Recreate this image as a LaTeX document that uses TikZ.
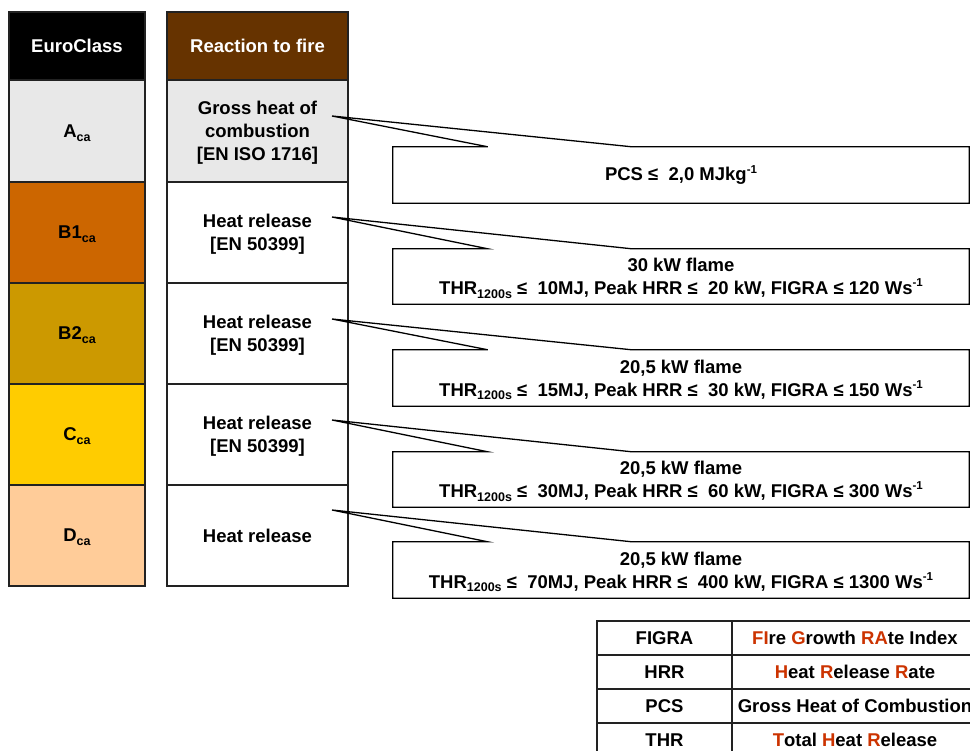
\documentclass[tikz,border=0pt]{standalone}
\usepackage{fontspec}
\setmainfont{Liberation Sans}
\usetikzlibrary{calc}
\definecolor{hdrbrown}{HTML}{663300}
\definecolor{lgray}{HTML}{E8E8E8}
\definecolor{cBone}{HTML}{CC6600}
\definecolor{cBtwo}{HTML}{CC9900}
\definecolor{cC}{HTML}{FFCC00}
\definecolor{cD}{HTML}{FFCC99}
\definecolor{lred}{HTML}{CC3300}
\definecolor{edge}{HTML}{222222}
\newcommand{\sbx}[1]{\smash{\raisebox{-0.4ex}{\fontsize{12.5}{12.5}\selectfont #1}}}
\newcommand{\spx}[1]{\raisebox{0.8ex}{\fontsize{11.5}{11.5}\selectfont #1}}
\newcommand{\rl}[1]{\textcolor{lred}{#1}}
\tikzset{
  cell/.style={draw=edge, line width=1.2pt, inner sep=0pt, align=center,
    font=\bfseries\fontsize{18.5}{23}\selectfont},
  colA/.style={cell, minimum width=136pt},
  colB/.style={cell, minimum width=181pt},
  rowbox/.style={minimum height=101pt},
  hdrbox/.style={minimum height=68pt, text=white},
  callbox/.style={fill=white, inner sep=0pt, minimum width=576pt, align=center,
    font=\bfseries\fontsize{18.5}{23}\selectfont},
  outl/.style={draw=black, line width=1.3pt, line join=miter},
  legcell/.style={cell, minimum height=34pt}
}
\begin{document}
\begin{tikzpicture}[x=1pt,y=-1pt]
\useasboundingbox (0,0) rectangle (970,751);
\clip (0,0) rectangle (970,751);
\fill[white] (0,0) rectangle (970,751);
% column 1
\node[colA, hdrbox, fill=black] (h1) at (77,46) {EuroClass};
\node[colA, rowbox, fill=lgray] (ca) at (77,131) {A\sbx{ca}};
\node[colA, rowbox, fill=cBone] (cb1) at (77,232.5) {B1\sbx{ca}};
\node[colA, rowbox, fill=cBtwo] (cb2) at (77,333.5) {B2\sbx{ca}};
\node[colA, rowbox, fill=cC] (cc) at (77,434.5) {C\sbx{ca}};
\node[colA, rowbox, fill=cD] (cd) at (77,535.5) {D\sbx{ca}};
% column 2
\node[colB, hdrbox, fill=hdrbrown] (h2) at (257.5,46) {Reaction to fire};
\node[colB, rowbox, fill=lgray] (ra) at (257.5,131) {Gross heat of\\combustion\\\smash{[EN ISO 1716]}};
\node[colB, rowbox, fill=white] (rb1) at (257.5,232.5) {Heat release\\\smash{[EN 50399]}};
\node[colB, rowbox, fill=white] (rb2) at (257.5,333.5) {Heat release\\\smash{[EN 50399]}};
\node[colB, rowbox, fill=white] (rc) at (257.5,434.5) {Heat release\\\smash{[EN 50399]}};
\node[colB, rowbox, fill=white] (rd) at (257.5,535.5) {Heat release};
% callout boxes
\node[callbox, minimum height=56pt] (b1) at (681,175) {PCS ≤~~2,0 MJkg\spx{-1}};
\node[callbox, minimum height=55pt] (b2) at (681,276.5) {\rule{0pt}{16pt}30 kW flame\\THR\sbx{1200s} ≤~~10MJ, Peak HRR ≤~~20 kW, FIGRA ≤ 120 Ws\spx{-1}};
\node[callbox, minimum height=56pt] (b3) at (681,378) {\rule{0pt}{16pt}20,5 kW flame\\THR\sbx{1200s} ≤~~15MJ, Peak HRR ≤~~30 kW, FIGRA ≤ 150 Ws\spx{-1}};
\node[callbox, minimum height=55pt] (b4) at (681,479.5) {\rule{0pt}{16pt}20,5 kW flame\\THR\sbx{1200s} ≤~~30MJ, Peak HRR ≤~~60 kW, FIGRA ≤ 300 Ws\spx{-1}};
\node[callbox, minimum height=56pt] (b5) at (681,570) {\rule{0pt}{16pt}20,5 kW flame\\THR\sbx{1200s} ≤~~70MJ, Peak HRR ≤~~400 kW, FIGRA ≤ 1300 Ws\spx{-1}};
% callout tips
\coordinate (t1) at (332,116);
\coordinate (t2) at (332,217);
\coordinate (t3) at (332,319);
\coordinate (t4) at (332,420);
\coordinate (t5) at (332,510);
\foreach \b/\t in {b1/t1,b2/t2,b3/t3,b4/t4,b5/t5}{
  \draw[outl] ($(\b.north west)+(95,0)$) -- (\b.north west) |- (\b.south east)
     |- ($(\b.north west)+(239,0)$) -- (\t) -- cycle;
}
% legend table
\node[legcell, minimum width=135pt] (l1a) at (664.5,638) {FIGRA};
\node[legcell, minimum width=246pt] (l1b) at (855,638) {\rl{FI}re \rl{G}rowth \rl{RA}te Index};
\node[legcell, minimum width=135pt] (l2a) at (664.5,672) {HRR};
\node[legcell, minimum width=246pt] (l2b) at (855,672) {\rl{H}eat \rl{R}elease \rl{R}ate};
\node[legcell, minimum width=135pt] (l3a) at (664.5,706) {PCS};
\node[legcell, minimum width=246pt] (l3b) at (855,706) {Gross Heat of Combustion};
\node[legcell, minimum width=135pt] (l4a) at (664.5,740) {THR};
\node[legcell, minimum width=246pt] (l4b) at (855,740) {\rl{T}otal \rl{H}eat \rl{R}elease};
\end{tikzpicture}
\end{document}
